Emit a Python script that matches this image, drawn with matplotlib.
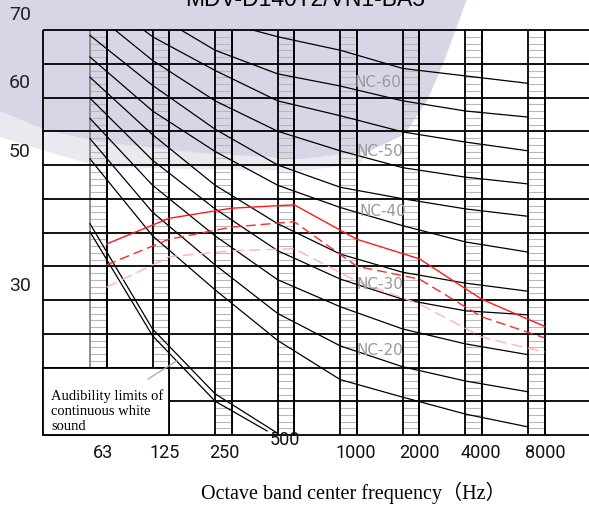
import numpy as np
import matplotlib
matplotlib.use("Agg")
import matplotlib.pyplot as plt
from matplotlib.patches import Polygon, Rectangle

# octave bands (x = octave index, 63 Hz = 0)
freq_labels = ['63', '125', '250', '500', '1000', '2000', '4000', '8000']
bands = np.arange(8)

# NC curves (dB), 63 Hz ... 8000 Hz
nc15 = [50.9, 39.5, 31.5, 24.0, 18.2, 15.6, 13.1, 11.2]
nc20 = [53.9, 43.0, 35.2, 28.0, 23.2, 20.1, 18.0, 16.4]
nc25 = [56.9, 47.0, 39.5, 33.0, 29.0, 25.7, 23.5, 21.9]
nc30 = [59.9, 50.7, 43.5, 37.3, 33.1, 30.1, 28.4, 27.8]
nc35 = [63.0, 54.5, 47.0, 41.3, 36.8, 34.1, 32.5, 31.3]
nc40 = [66.0, 58.0, 52.0, 47.0, 43.7, 41.0, 38.6, 37.1]
nc45 = [69.2, 61.8, 55.3, 50.0, 46.7, 45.0, 43.5, 42.4]
nc50 = [73.0, 65.5, 59.5, 55.0, 52.1, 49.6, 48.2, 47.2]
nc55 = [76.0, 69.0, 64.0, 59.5, 57.3, 54.9, 53.4, 52.1]
nc60 = [80.0, 72.5, 67.0, 63.5, 61.7, 59.5, 58.0, 57.1]
nc65 = [84.0, 77.0, 71.5, 69.0, 67.0, 64.3, 63.2, 62.1]
nc_curves = [nc15, nc20, nc25, nc30, nc35, nc40, nc45, nc50, nc55, nc60, nc65]

# unit noise levels (plotted at the right edge of each band column)
unit_high = [38.3, 42.1, 43.6, 44.1, 39.0, 36.1, 30.1, 26.1]
unit_mid = [35.2, 39.0, 40.8, 41.6, 35.0, 33.1, 27.5, 24.4]
unit_low = [31.9, 36.4, 37.3, 37.6, 32.8, 29.4, 24.5, 22.3]

# audibility limits of continuous white sound
aud_outer_x = [0, 1, 2, 2.99]
aud_outer_y = [41.3, 25.7, 16.1, 10.3]
aud_inner_x = [0, 1, 2, 2.83]
aud_inner_y = [40.1, 24.7, 15.0, 10.6]

y_labels = ['70', '60', '50', '30']
y_label_pos = [72.4, 62.3, 52.1, 32.2]
x_label_pos = [0.21, 1.20, 2.14, 3.12, 4.24, 5.26, 6.25, 7.27]

W, H = 589, 506
PX_OCT, PX_DB = 62.57, 6.75
col_w = 0.264
x_left = (43 - 90) / PX_OCT

fig = plt.figure(figsize=(W / 100, H / 100), dpi=100)
ax = fig.add_axes([0, 0, 1, 1])
ax.set_xlim(-90 / PX_OCT, (W - 90) / PX_OCT)
ax.set_ylim(10 - (H - 436) / PX_DB, 10 + 436 / PX_DB)
ax.axis('off')
x_right = ax.get_xlim()[1]

# watermark behind everything
def px(pts):
    return [(x / W, 1 - y / H) for x, y in pts]

band = [(-10, 100), (0, 110), (45, 128), (100, 141), (200, 152), (300, 158), (370, 150),
        (360, 165), (300, 172), (200, 170), (100, 168), (45, 152), (0, 138), (-10, 136)]
fig.add_artist(Polygon(px(band), closed=True, transform=fig.transFigure,
                       facecolor='#e9e9ef', edgecolor='none', zorder=-6))
wm = [(-10, -10), (480, -10), (467, 0), (445, 60), (428, 100), (405, 135), (370, 152),
      (300, 160), (200, 154), (100, 143), (43, 130), (0, 112), (-10, 110)]
fig.add_artist(Polygon(px(wm), closed=True, transform=fig.transFigure,
                       facecolor='#d6d6e7', edgecolor='none', zorder=-5))

# hatched band columns
for i in bands:
    ax.hlines(np.arange(11, 70), i, i + col_w, colors='#b8b8b8', lw=0.8, zorder=1)
    ax.vlines(i, 10, 70, colors='#888888' if i == 0 else 'black', lw=1.3, zorder=2)
    ax.vlines(i + col_w, 10, 70, colors='black', lw=1.4, zorder=2)

# grid
ax.hlines(np.arange(10, 71, 5), x_left, x_right, colors='black', lw=1.3, zorder=2)
ax.vlines(x_left, 10, 70, colors='black', lw=1.3, zorder=2)

# text box for audibility note
ax.add_patch(Rectangle((x_left, 10), 1 + col_w - x_left, 10, facecolor='white',
                       edgecolor='black', lw=1.3, zorder=3))

# curves are cut at the top of the grid
grid_clip = Rectangle((x_left, 10), x_right - x_left, 60, transform=ax.transData,
                      facecolor='none', edgecolor='none')
ax.add_patch(grid_clip)

for vals in nc_curves:
    ln, = ax.plot(bands, vals, color='black', lw=0.9, zorder=5)
    ln.set_clip_path(grid_clip)

ax.plot(aud_outer_x, aud_outer_y, color='black', lw=0.9, zorder=5)
ax.plot(aud_inner_x, aud_inner_y, color='black', lw=0.9, zorder=5)
ax.plot([0.93, 1.39], [18.3, 21.0], color='#a8a8a8', lw=0.9, zorder=5)

ax.plot(bands + col_w, unit_high, color='#ff1a1a', lw=1.0, zorder=6)
ax.plot(bands + col_w, unit_mid, color='#ff2a2a', lw=1.0, dashes=(7, 3.5), zorder=6)
ax.plot(bands + col_w, unit_low, color='#ffb3b3', lw=1.0, dashes=(8, 4), zorder=6)

# NC labels
for txt, xx, yy in [('NC-60', 4.60, 62.3), ('NC-50', 4.63, 52.1), ('NC-40', 4.68, 43.2),
                    ('NC-30', 4.63, 32.4), ('NC-20', 4.63, 22.7)]:
    ax.text(xx, yy, txt, color='#9a9a9a', fontsize=11, family='DejaVu Sans',
            ha='center', va='center', zorder=7)

ax.text(x_left + 0.13, 13.7, 'Audibility limits of\ncontinuous white\nsound',
        family='Liberation Serif', fontsize=10.5, ha='left', va='center',
        linespacing=1.2, zorder=7)

for lab, yy in zip(y_labels, y_label_pos):
    ax.text(-1.119, yy, lab, fontsize=14, family='Roboto',
            color='#222222', ha='center', va='center')

for lab, xx in zip(freq_labels, x_label_pos):
    yy = 9.4 if lab == '500' else 7.5
    ax.text(xx, yy, lab, fontsize=13, family='Roboto',
            color='#111111', ha='center', va='center', zorder=8)

fig.text(305 / W, 1 - 6 / H, 'MDV-D140T2/VN1-BA5', fontsize=16.5,
         family='Liberation Sans', ha='center', va='baseline')
fig.text(353 / W, 1 - 493 / H, 'Octave band center frequency（Hz）', fontsize=14.5,
         family=['Liberation Serif', 'Noto Sans CJK SC'], ha='center', va='center')

fig.savefig('out.png', dpi=100)
